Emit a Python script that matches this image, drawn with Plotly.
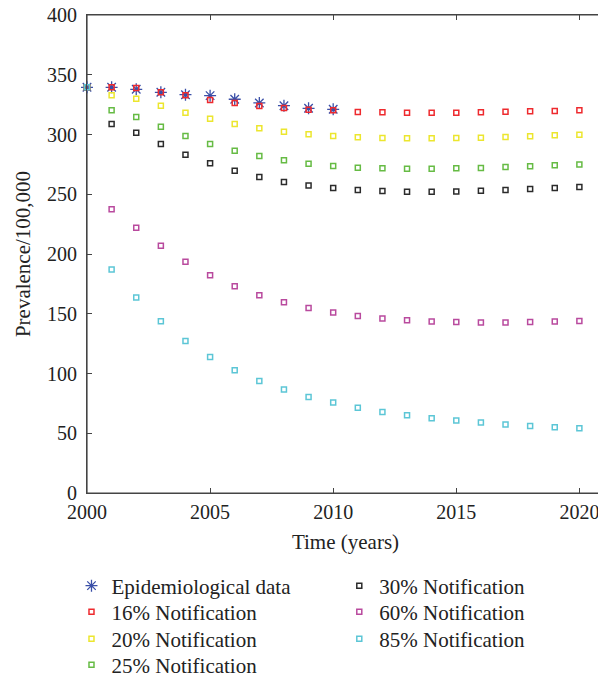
import plotly.graph_objects as go

years_epi = [2000, 2001, 2002, 2003, 2004, 2005, 2006, 2007, 2008, 2009, 2010]
epi = [339.5, 339.5, 337.8, 335.3, 333.3, 332.5, 329.5, 326.4, 324.1, 321.9, 321.1]

years = list(range(2000, 2021))
n16 = [339.5, 339.5, 338.9, 335.3, 332.8, 328.9, 326.4, 323.9, 322.2, 320.8, 320.3,
       318.8, 318.6, 318.3, 318.3, 318.3, 318.6, 319.1, 319.4, 319.7, 320.3]
n20 = [339.5, 332.8, 330.0, 324.1, 318.3, 313.2, 308.8, 305.2, 302.4, 300.2, 298.7,
       297.6, 297.1, 296.8, 296.8, 297.1, 297.3, 297.9, 298.5, 299.3, 299.8]
n25 = [339.5, 320.3, 314.7, 306.5, 298.7, 292.0, 286.4, 282.0, 278.4, 275.6, 273.6,
       272.2, 271.7, 271.4, 271.4, 271.7, 271.9, 272.8, 273.4, 274.2, 275.0]
n30 = [339.5, 308.8, 301.5, 292.0, 283.1, 275.9, 269.7, 264.4, 260.2, 257.4, 255.2,
       253.6, 252.7, 252.1, 252.1, 252.4, 252.9, 253.5, 254.4, 255.2, 256.0]
n60 = [339.5, 237.5, 222.0, 206.9, 193.5, 182.3, 173.1, 165.5, 159.7, 154.9, 151.1,
       148.1, 146.1, 144.6, 143.5, 143.0, 142.7, 142.7, 143.0, 143.5, 144.0]
n85 = [339.5, 187.1, 163.6, 143.8, 127.1, 113.9, 102.8, 93.8, 86.6, 80.4, 75.7,
       71.3, 67.8, 65.1, 62.6, 60.6, 59.0, 57.3, 56.1, 55.0, 54.2]

series = [
    ("16% Notification", n16, "#ee2a2e"),
    ("20% Notification", n20, "#ece62e"),
    ("25% Notification", n25, "#66bb44"),
    ("30% Notification", n30, "#2b2b2b"),
    ("60% Notification", n60, "#b94a9e"),
    ("85% Notification", n85, "#5cc6d6"),
]

FONT = "Liberation Serif"

# legend slots: (legend id, x, y) -> two columns like the reference
slots = [
    ("legend", -0.030, -0.1517),
    ("legend2", -0.030, -0.2061),
    ("legend3", -0.030, -0.2626),
    ("legend4", -0.030, -0.3170),
    ("legend5", 0.488, -0.1517),
    ("legend6", 0.488, -0.2061),
    ("legend7", 0.488, -0.2626),
]

fig = go.Figure()
fig.add_trace(go.Scatter(
    x=years_epi, y=epi, mode="markers", name="Epidemiological data",
    marker=dict(symbol="asterisk-open", size=10, color="#3a4fa8",
                line=dict(color="#3a4fa8", width=1.3)),
    cliponaxis=False, legend=slots[0][0], showlegend=True))
for i, (name, vals, col) in enumerate(series):
    fig.add_trace(go.Scatter(
        x=years, y=vals, mode="markers", name=name,
        marker=dict(symbol="square-open", size=5, color=col,
                    line=dict(color=col, width=1.5)),
        cliponaxis=False, legend=slots[i + 1][0], showlegend=True))

axis_common = dict(showline=True, linecolor="#444", linewidth=1.2, mirror="ticks",
                   ticks="inside", ticklen=5, tickcolor="#444", showgrid=False,
                   zeroline=False, automargin=False, ticklabeloverflow="allow",
                   tickfont=dict(family=FONT, size=20, color="#222"))

legend_layouts = {}
for lid, lx, ly in slots:
    legend_layouts[lid] = dict(x=lx, y=ly, xanchor="left", yanchor="top",
                               font=dict(family=FONT, size=21), visible=True,
                               bgcolor="rgba(0,0,0,0)", itemwidth=30)

# page body adds an 8px margin, so the figure is 8px smaller and offset
fig.update_layout(
    width=598, height=672,
    showlegend=True,
    margin=dict(l=79, r=2, t=7, b=187, autoexpand=False),
    paper_bgcolor="white", plot_bgcolor="white",
    font=dict(family=FONT, size=21, color="#222"),
    xaxis=dict(range=[2000, 2021], tickvals=[2000, 2005, 2010, 2015, 2020],
               ticklabelstandoff=1,
               title=dict(text="Time (years)", font=dict(family=FONT, size=21), standoff=12),
               **axis_common),
    yaxis=dict(range=[0, 400], tickvals=list(range(0, 401, 50)),
               ticklabelstandoff=5,
               title=dict(text="Prevalence/100,000", font=dict(family=FONT, size=21), standoff=10),
               **axis_common),
    shapes=[dict(type="rect", xref="paper", yref="paper", x0=0, x1=1, y0=0, y1=1,
                 line=dict(color="#444", width=1.2), layer="below")],
    **legend_layouts,
)

fig.write_html("out.html")
